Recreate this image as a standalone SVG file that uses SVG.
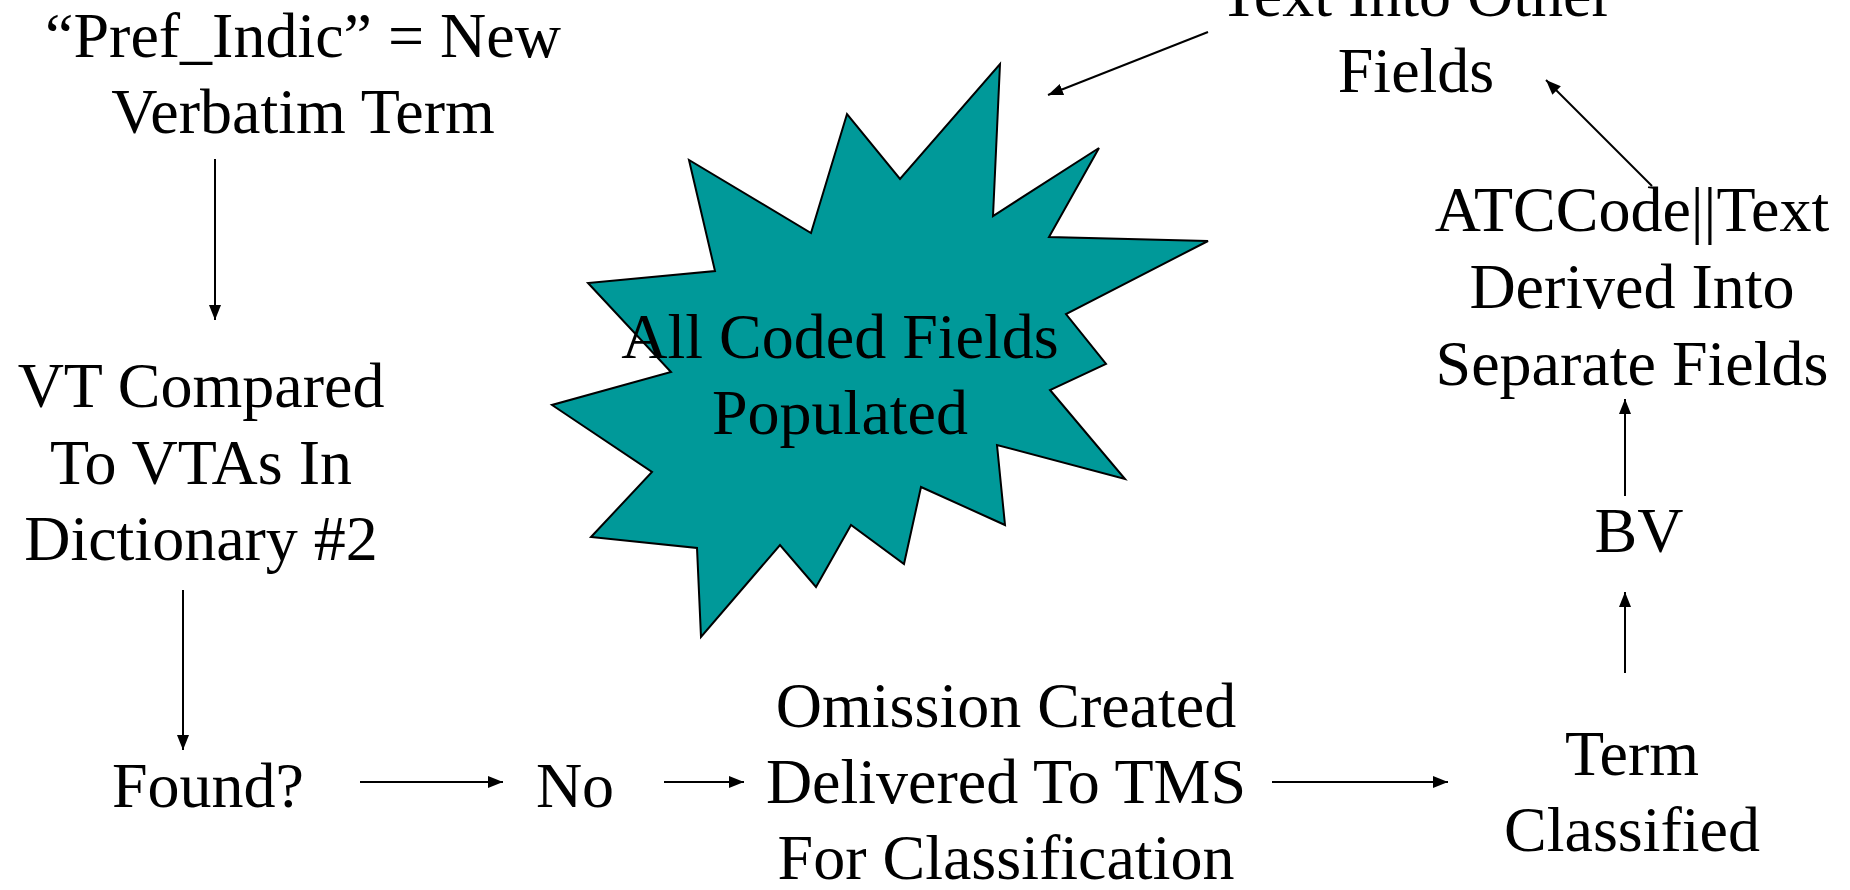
<svg xmlns="http://www.w3.org/2000/svg" width="1850" height="890" viewBox="0 0 1850 890">
<style>
text{font-family:"Liberation Serif","Times New Roman",serif;font-size:64px;fill:#000;text-anchor:middle}
.c{stroke:#000;stroke-width:2;fill:none;marker-end:url(#ah)}
.burst{fill:#009999;stroke:#000;stroke-width:2;stroke-linejoin:miter}
</style>
<defs>
<marker id="ah" markerUnits="userSpaceOnUse" markerWidth="16" markerHeight="13" refX="15" refY="6" orient="auto">
<path d="M0,0 L15,6 L0,12 z" fill="#000"/>
</marker>
</defs>
<rect width="1850" height="890" fill="#fff"/>
<g id="connectors">
<line class="c" x1="215" y1="159" x2="215" y2="320"/>
<line class="c" x1="183" y1="590" x2="183" y2="750"/>
<line class="c" x1="360" y1="782" x2="503" y2="782"/>
<line class="c" x1="664" y1="782" x2="744" y2="782"/>
<line class="c" x1="1272" y1="782" x2="1448" y2="782"/>
<line class="c" x1="1625" y1="673" x2="1625" y2="592"/>
<line class="c" x1="1625" y1="496" x2="1625" y2="399"/>
<line class="c" x1="1652" y1="186" x2="1546" y2="80"/>
<line class="c" x1="1208" y1="32" x2="1048" y2="95"/>
</g>
<g id="starburst">
<polygon class="burst" points="1000,64 993,216 1099,148 1049,237 1208,241 1066,314 1106,364 1050,390 1125,479 997,445 1005,525 921,487 904,564 851,525 816,587 780,545 701,637 697,548 591,537 652,472 552,405 671,372 588,283 715,271 689,160 811,233 847,114 900,179"/>
<text x="840" y="358">All Coded Fields</text>
<text x="840" y="434">Populated</text>
</g>
<g id="pref">
<text x="303" y="57">“Pref_Indic” = New</text>
<text x="303" y="133">Verbatim Term</text>
</g>
<g id="vt">
<text x="201" y="407">VT Compared</text>
<text x="201" y="484">To VTAs In</text>
<text x="201" y="560">Dictionary #2</text>
</g>
<g id="found"><text x="208" y="807">Found?</text></g>
<g id="no"><text x="575" y="807">No</text></g>
<g id="omission">
<text x="1006" y="727">Omission Created</text>
<text x="1006" y="803">Delivered To TMS</text>
<text x="1006" y="879">For Classification</text>
</g>
<g id="term">
<text x="1632" y="775">Term</text>
<text x="1632" y="851">Classified</text>
</g>
<g id="bv"><text x="1639" y="552">BV</text></g>
<g id="atc">
<text x="1632" y="231">ATCCode||Text</text>
<text x="1632" y="308">Derived Into</text>
<text x="1632" y="385">Separate Fields</text>
</g>
<g id="other">
<text x="1416" y="16">Text Into Other</text>
<text x="1416" y="92">Fields</text>
</g>
</svg>
